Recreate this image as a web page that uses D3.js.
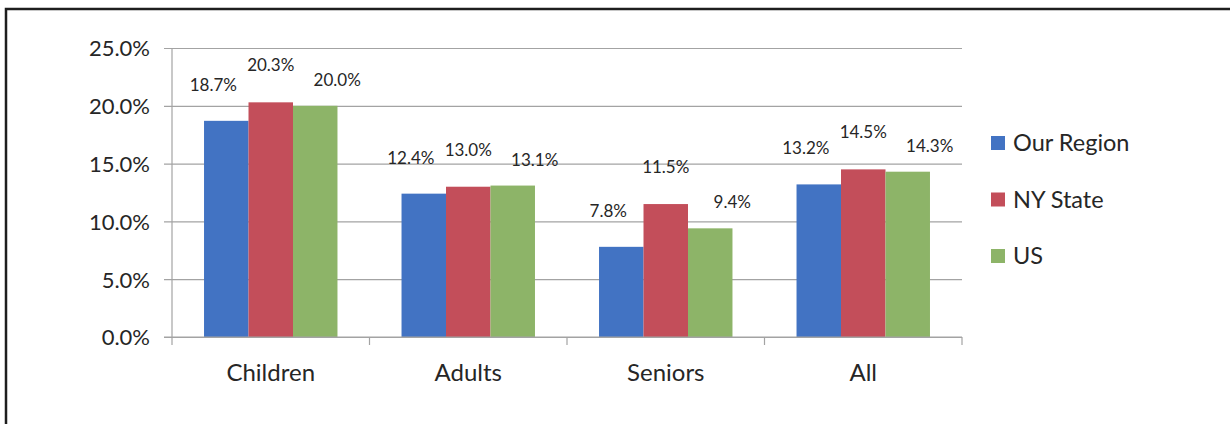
<!DOCTYPE html>
<html>
<head>
<meta charset="utf-8">
<script src="https://cdn.jsdelivr.net/npm/d3@7"></script>
<style>
  body { margin: 0; background: #fff; }
  svg text { font-family: Lato, "Open Sans", sans-serif; fill: #262626; }
</style>
</head>
<body>
<div id="chart_container"></div>
<script>
// data
let categories = ["Children", "Adults", "Seniors", "All"];
let seriesNames = ["Our Region", "NY State", "US"];
let ourRegion = [18.7, 12.4, 7.8, 13.2];
let nyState = [20.3, 13.0, 11.5, 14.5];
let us = [20.0, 13.1, 9.4, 14.3];
let yTicks = [0, 5, 10, 15, 20, 25];

let seriesValues = [ourRegion, nyState, us];
let colors = ["#4273c3", "#c34e5a", "#8db468"];
// label nudges per series (excel put them a bit to the side)
let labelDx = [-13, 0, 22];
let labelDy = [30, 31, 20];

let svgWidth = 1230, svgHeight = 424;
let plot = {left: 172, right: 962, top: 48, bottom: 337};

let svg = d3.select("#chart_container").append("svg")
    .attr("width", svgWidth)
    .attr("height", svgHeight);

// outer frame, only top and left show in the crop
svg.append("rect")
    .attr("x", 6).attr("y", 9)
    .attr("width", 1260).attr("height", 460)
    .attr("fill", "none")
    .attr("stroke", "#1e1e1e")
    .attr("stroke-width", 2.5);

let y = d3.scaleLinear().domain([0, 25]).range([plot.bottom, plot.top]);
let x0 = d3.scaleBand().domain(categories).range([plot.left, plot.right]).padding(0);
let x1 = d3.scaleBand().domain(seriesNames).range([0, x0.bandwidth()]).paddingInner(0).paddingOuter(0.72);

// gridlines
let gy = svg.append("g")
    .attr("transform", "translate(" + (plot.right) + ",0)")
    .call(d3.axisLeft(y).tickValues(yTicks).tickSize(plot.right - plot.left + 8).tickFormat(""));
gy.select(".domain").remove();
gy.selectAll(".tick line").attr("stroke", "#a3a3a3").attr("stroke-width", 1.2);

// y tick labels
let gyl = svg.append("g").attr("transform", "translate(" + (plot.left - 8) + ",0)")
    .call(d3.axisLeft(y).tickValues(yTicks).tickSize(0).tickPadding(14).tickFormat(d => d.toFixed(1) + "%"));
gyl.select(".domain").remove();
gyl.selectAll("text").style("font-size", "22px").attr("dy", "0.36em");

// y axis line
svg.append("line")
    .attr("x1", plot.left).attr("x2", plot.left)
    .attr("y1", plot.top).attr("y2", plot.bottom + 8)
    .attr("stroke", "#a3a3a3").attr("stroke-width", 1.2);

// category boundary ticks
let bounds = categories.map(c => x0(c)).concat([plot.right]);
svg.selectAll("line.cattick")
    .data(bounds.slice(1))
    .enter()
    .append("line")
    .attr("class", "cattick")
    .attr("x1", d => d).attr("x2", d => d)
    .attr("y1", plot.bottom).attr("y2", plot.bottom + 8)
    .attr("stroke", "#a3a3a3").attr("stroke-width", 1.2);

// bars
for (let s = 0; s < seriesValues.length; s++) {
    let vals = seriesValues[s];
    svg.selectAll("rect.s" + s)
        .data(vals)
        .enter()
        .append("rect")
        .attr("class", "s" + s)
        .attr("x", (d, i) => x0(categories[i]) + x1(seriesNames[s]))
        .attr("y", d => y(d))
        .attr("width", x1.bandwidth())
        .attr("height", d => plot.bottom - y(d))
        .attr("fill", colors[s]);

    svg.selectAll("text.l" + s)
        .data(vals)
        .enter()
        .append("text")
        .attr("class", "l" + s)
        .attr("x", (d, i) => x0(categories[i]) + x1(seriesNames[s]) + x1.bandwidth() / 2 + labelDx[s])
        .attr("y", d => y(d) - labelDy[s])
        .attr("text-anchor", "middle")
        .style("font-size", "17px")
        .text(d => d.toFixed(1) + "%");
}

// baseline over the bars
svg.append("line")
    .attr("x1", plot.left - 8).attr("x2", plot.right)
    .attr("y1", plot.bottom).attr("y2", plot.bottom)
    .attr("stroke", "#a3a3a3").attr("stroke-width", 1.2);

// category labels
svg.selectAll("text.cat")
    .data(categories)
    .enter()
    .append("text")
    .attr("class", "cat")
    .attr("x", d => x0(d) + x0.bandwidth() / 2)
    .attr("y", 381)
    .attr("text-anchor", "middle")
    .style("font-size", "24px")
    .text(d => d);

// legend
let legend = svg.selectAll("g.legend")
    .data(seriesNames)
    .enter()
    .append("g")
    .attr("class", "legend")
    .attr("transform", (d, i) => "translate(991," + (143 + i * 56.5) + ")");
legend.append("rect")
    .attr("x", 0).attr("y", -7)
    .attr("width", 14).attr("height", 14)
    .attr("fill", (d, i) => colors[i]);
legend.append("text")
    .attr("x", 22).attr("y", 0)
    .attr("dy", "0.36em")
    .style("font-size", "23.5px")
    .text(d => d);
</script>
</body>
</html>
